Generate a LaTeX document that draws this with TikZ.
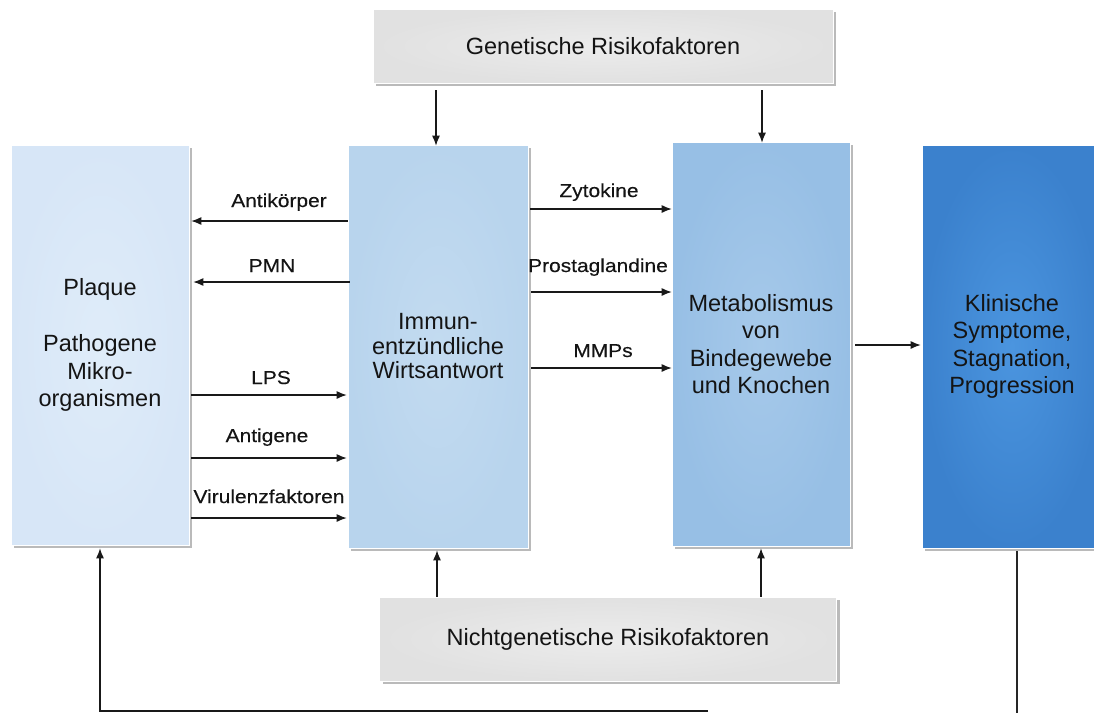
\documentclass[tikz,border=0pt]{standalone}
\usepackage{fontspec}
\setmainfont{Liberation Sans}
\newfontfamily\lblfont{Liberation Sans}[FakeStretch=1.12,FakeBold=0.3]
\usetikzlibrary{shadows,arrows.meta}
\definecolor{plaqueIn}{HTML}{DFECF9}
\definecolor{plaqueOut}{HTML}{D7E6F7}
\definecolor{immunIn}{HTML}{C3DBF0}
\definecolor{immunOut}{HTML}{B8D4ED}
\definecolor{metabIn}{HTML}{A6C9EA}
\definecolor{metabOut}{HTML}{97BFE5}
\definecolor{klinIn}{HTML}{4B95DF}
\definecolor{klinOut}{HTML}{3B81CD}
\definecolor{grayIn}{HTML}{ECECEC}
\definecolor{grayOut}{HTML}{E1E1E1}
\tikzset{
  box/.style={rectangle, draw=white, line width=0.6pt, align=center,
    font=\fontsize{23.5}{27.5}\selectfont, text=black!92,
    drop shadow={shadow xshift=3pt, shadow yshift=-3pt, opacity=0.45, fill=black!60}},
  plaquebox/.style={box, shading=radial, inner color=plaqueIn, outer color=plaqueOut},
  immunbox/.style={box, shading=radial, inner color=immunIn, outer color=immunOut},
  metabbox/.style={box, shading=radial, inner color=metabIn, outer color=metabOut},
  klinbox/.style={box, shading=radial, inner color=klinIn, outer color=klinOut},
  graybox/.style={box, shading=radial, inner color=grayIn, outer color=grayOut},
  arr/.style={-{Latex[length=10pt,width=8pt]}, line width=1.2pt, black!90},
  plain/.style={line width=1.2pt, black!85},
  lbl/.style={anchor=base, font=\lblfont\fontsize{18.7}{20}\selectfont, text=black!92, inner sep=0pt}
}
\begin{document}
\begin{tikzpicture}[x=1pt,y=-1pt]
\useasboundingbox (0,0) rectangle (1094,713);
% boxes
\node[graybox, minimum width=460pt, minimum height=74pt] (gen) at (603,46) {Genetische Risikofaktoren};
\node[plaquebox, minimum width=178pt, minimum height=400pt] (plaque) at (100,345)
  {Plaque\\[28.5pt]Pathogene\\Mikro-\\organismen};
\node[immunbox, minimum width=180pt, minimum height=403pt, font=\fontsize{23.5}{24.5}\selectfont] (immun) at (438,346.5)
  {Immun-\\entzündliche\\Wirtsantwort};
\node[metabbox, minimum width=178pt, minimum height=404pt] (metab) at (761,344)
  {Metabolismus\\von\\Bindegewebe\\und Knochen};
\node[klinbox, minimum width=180pt, minimum height=403pt] (klin) at (1012,346.5)
  {Klinische\\Symptome,\\Stagnation,\\Progression};
\node[graybox, minimum width=457pt, minimum height=84pt] (nicht) at (608,639) {Nichtgenetische Risikofaktoren};

% level coordinates
\coordinate (yAnti) at (0,221);
\coordinate (yPMN) at (0,282);
\coordinate (yLPS) at (0,395);
\coordinate (yAntig) at (0,458);
\coordinate (yVir) at (0,518);
\coordinate (yZyt) at (0,209);
\coordinate (yPro) at (0,292);
\coordinate (yMMP) at (0,368);
\coordinate (yKlin) at (0,345);
\coordinate (xG1) at (436,0);
\coordinate (xG2) at (762,0);
\coordinate (xN1) at (437,0);
\coordinate (xN2) at (761,0);

% left arrows
\draw[arr] (immun.west |- yAnti) -- ([xshift=2pt]plaque.east |- yAnti);
\draw[arr] ([xshift=2pt]immun.west |- yPMN) -- ([xshift=4pt]plaque.east |- yPMN);
\draw[arr] ([xshift=2pt]plaque.east |- yLPS) -- ([xshift=-1pt]immun.west |- yLPS);
\draw[arr] ([xshift=2pt]plaque.east |- yAntig) -- ([xshift=-1pt]immun.west |- yAntig);
\draw[arr] ([xshift=2pt]plaque.east |- yVir) -- ([xshift=-1pt]immun.west |- yVir);
\node[lbl] (lAnti) at (279,207) {Antikörper};
\node[lbl] (lPMN) at (272,272) {PMN};
\node[lbl] (lLPS) at (271,384) {LPS};
\node[lbl] (lAntig) at (267,442) {Antigene};
\node[lbl] (lVir) at (269,503) {Virulenzfaktoren};

% middle arrows
\draw[arr] ([xshift=2pt]immun.east |- yZyt) -- (metab.west |- yZyt);
\draw[arr] ([xshift=3pt]immun.east |- yPro) -- (metab.west |- yPro);
\draw[arr] ([xshift=3pt]immun.east |- yMMP) -- (metab.west |- yMMP);
\node[lbl] (lZyt) at (599,197) {Zytokine};
\node[lbl] (lPro) at (598,272) {Prostaglandine};
\node[lbl] (lMMP) at (603,357) {MMPs};

% to clinical
\draw[arr] ([xshift=5pt]metab.east |- yKlin) -- ([xshift=-1pt]klin.west |- yKlin);

% risk factors
\draw[arr] ([yshift=-7pt]gen.south -| xG1) -- ([yshift=-1pt]immun.north -| xG1);
\draw[arr] ([yshift=-7pt]gen.south -| xG2) -- ([yshift=-1pt]metab.north -| xG2);
\draw[arr] (nicht.north -| xN1) -- ([yshift=-2pt]immun.south -| xN1);
\draw[arr] (nicht.north -| xN2) -- ([yshift=-2pt]metab.south -| xN2);

% feedback
\coordinate (fbR) at (1017,713);
\coordinate (fbL) at (708,711);
\draw[plain] ([yshift=-3pt]klin.south -| fbR) -- (fbR);
\draw[arr] (fbL) -- (fbL -| plaque.south) -- ([yshift=-3pt]plaque.south);
\end{tikzpicture}
\end{document}
